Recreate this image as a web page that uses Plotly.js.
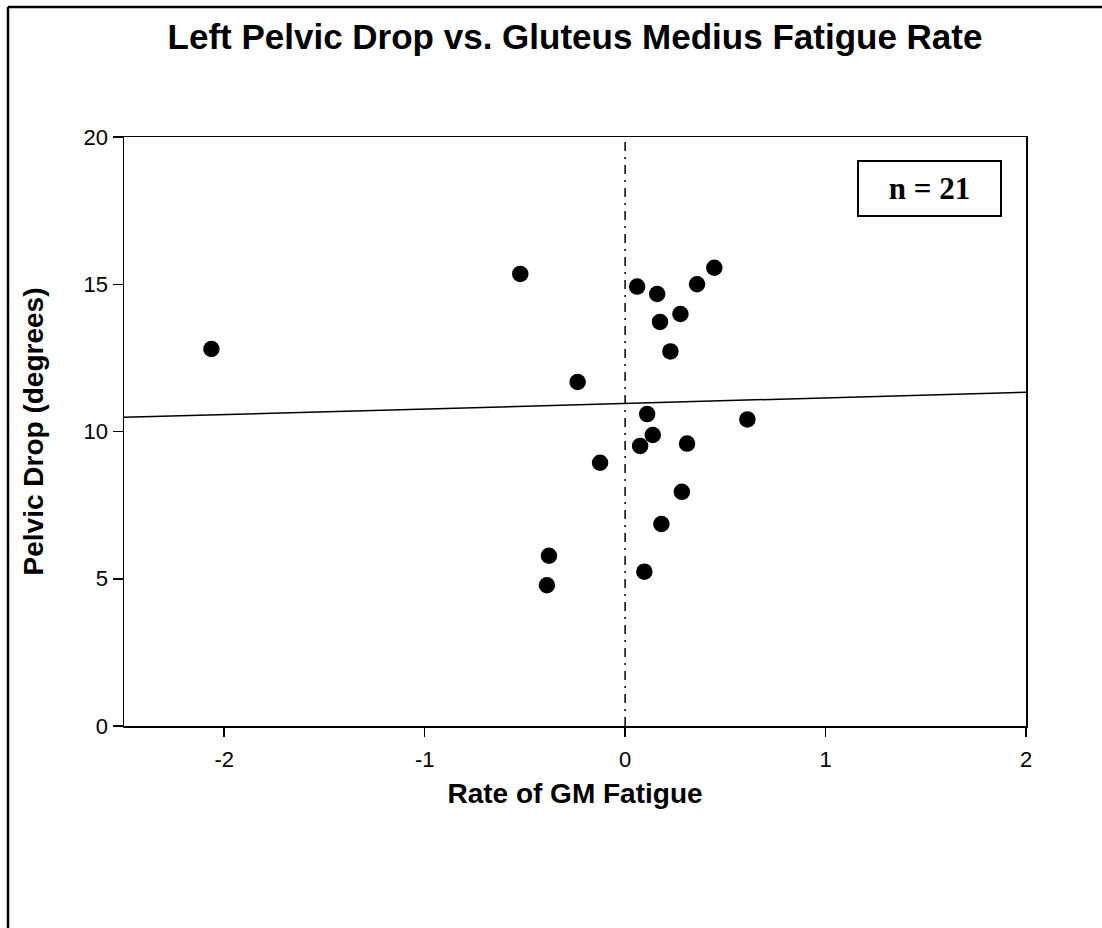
<!DOCTYPE html>
<html>
<head>
<meta charset="utf-8">
<script src="https://cdn.plot.ly/plotly-3.0.1.min.js"></script>
<style>
  html, body { margin: 0; padding: 0; background: #fff; }
  #chart { width: 1102px; height: 928px; }
</style>
</head>
<body>
<div id="chart"></div>
<script>
// Data
const fatigueRate = [-2.064, -0.523, -0.237, -0.125, -0.380, -0.390, 0.060, 0.160, 0.174, 0.276, 0.359,
                     0.445, 0.226, 0.110, 0.138, 0.075, 0.309, 0.610, 0.283, 0.181, 0.096];
const pelvicDrop  = [12.80, 15.35, 11.68, 8.94, 5.78, 4.78, 14.92, 14.67, 13.72, 13.99, 15.00,
                     15.56, 12.72, 10.59, 9.88, 9.51, 9.59, 10.41, 7.95, 6.86, 5.24];
const fitX = [-2.5, 2];
const fitY = [10.48, 11.33];
const zeroLineX = [0, 0];
const zeroLineY = [0, 20];
const xTicks = [-2, -1, 0, 1, 2];
const yTicks = [0, 5, 10, 15, 20];
const nLabel = "n = 21";

// pixel geometry of plot area
const W = 1102, H = 928;
const L = 124, R = 1026, T = 137, B = 726;
const px2paperX = p => (p - L) / (R - L);
const px2paperY = p => (B - p) / (B - T);

const traces = [
  {
    x: zeroLineX, y: zeroLineY, mode: 'lines', type: 'scatter',
    line: {color: '#000', width: 1.5, dash: '9px,6px,2px,6px'},
    hoverinfo: 'skip', showlegend: false
  },
  {
    x: fitX, y: fitY, mode: 'lines', type: 'scatter',
    line: {color: '#000', width: 1.5},
    hoverinfo: 'skip', showlegend: false
  },
  {
    x: fatigueRate, y: pelvicDrop, mode: 'markers', type: 'scatter',
    marker: {color: '#000', size: 16.5, line: {width: 0}},
    showlegend: false
  }
];

const layout = {
  width: W, height: H,
  paper_bgcolor: '#fff', plot_bgcolor: '#fff',
  margin: {l: L, r: W - R, t: T, b: H - B, pad: 0},
  font: {family: '"Liberation Sans", Arial, sans-serif', color: '#000'},
  title: {
    text: '<b>Left Pelvic Drop vs. Gluteus Medius Fatigue Rate</b>',
    font: {size: 35, family: '"Liberation Sans", Arial, sans-serif', color: '#000'},
    x: 0.5 * (L + R) / W, xanchor: 'center',
    y: 1 - 37 / H, yanchor: 'middle', yref: 'container'
  },
  xaxis: {
    range: [-2.5, 2], tickvals: xTicks, ticktext: xTicks.map(String),
    showgrid: false, zeroline: false,
    showline: true, linecolor: '#000', linewidth: 1.5, mirror: true,
    ticks: 'outside', ticklen: 9, tickwidth: 1.5, tickcolor: '#000',
    tickfont: {size: 22}, ticklabelstandoff: 4,
    title: {text: '<b>Rate of GM Fatigue</b>', font: {size: 28}, standoff: 12},
    automargin: false
  },
  yaxis: {
    range: [0, 20], tickvals: yTicks, ticktext: yTicks.map(String),
    showgrid: false, zeroline: false,
    showline: true, linecolor: '#000', linewidth: 1.5, mirror: true,
    ticks: 'outside', ticklen: 10, tickwidth: 1.5, tickcolor: '#000',
    tickfont: {size: 22},
    title: {text: '<b>Pelvic Drop (degrees)</b>', font: {size: 28}, standoff: 32},
    automargin: false
  },
  annotations: [{
    x: 1.518, y: 18.25, xref: 'x', yref: 'y',
    text: '<b>' + nLabel + '</b>', showarrow: false,
    font: {family: '"Liberation Serif", "Times New Roman", serif', size: 31, color: '#000'},
    bordercolor: '#000', borderwidth: 2, borderpad: 0,
    width: 141, height: 53, align: 'center', valign: 'middle',
    bgcolor: '#fff'
  }],
  shapes: [
    {type: 'line', xref: 'paper', yref: 'paper',
     x0: px2paperX(8), y0: px2paperY(H + 5), x1: px2paperX(8), y1: px2paperY(7),
     line: {color: '#000', width: 2.5}},
    {type: 'line', xref: 'paper', yref: 'paper',
     x0: px2paperX(8), y0: px2paperY(7), x1: px2paperX(W + 5), y1: px2paperY(7),
     line: {color: '#000', width: 2.5}}
  ]
};

Plotly.newPlot('chart', traces, layout, {displayModeBar: false, staticPlot: true});
</script>
</body>
</html>
